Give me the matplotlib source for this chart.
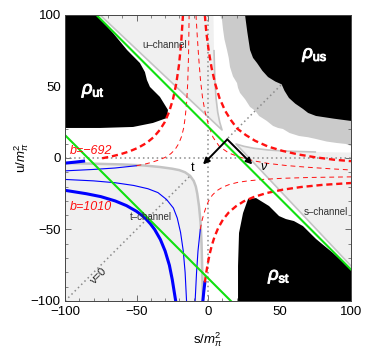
import matplotlib
matplotlib.use('Agg')
import matplotlib.pyplot as plt
import matplotlib.patheffects as pe
from matplotlib.ticker import MultipleLocator

plt.rcParams['font.family'] = ['Liberation Sans', 'DejaVu Sans']
plt.rcParams['mathtext.fontset'] = 'custom'
plt.rcParams['mathtext.rm'] = 'Liberation Sans'
plt.rcParams['mathtext.it'] = 'Liberation Sans:italic'

# the picture is symmetric under s <-> u, so mirrored pieces reuse the same numbers swapped

# black double-spectral regions
rho_ut_s = [-100, -77.6, -66.4, -56.6, -47.6, -44.1, -42.7, -40.6, -33.6, -28.0, -28.7, -38.5, -52.4, -75.5, -100]
rho_ut_u = [100, 100, 87.4, 75.5, 66.4, 60.1, 54.5, 49.7, 42.7, 33.6, 28.0, 24.5, 21.7, 21.0, 21.0]
rho_us_half_s = [25.9, 27.5, 29.4, 31.5, 34.3, 38, 42, 47, 51.5]
rho_us_half_u = [100, 88, 75.5, 70, 66.4, 61, 56.6, 53.5, 51.5]

# mid grey band around rho_us
grey_half_s = [8.4, 9.8, 10.5, 11.5, 13.3, 14.5, 15.4, 17.5, 20.3, 21, 22.4, 26, 29.4, 33]
grey_half_u = [100, 96.5, 90, 83, 75.5, 70, 63.6, 57, 52.4, 49, 45.5, 41, 35.7, 33]

# physical regions (light grey)
tch_s = [-100, -80, -60, -45, -33.6, -25, -20, -16, -12.5, -10, -8.5, -7.5, -6.3, -5.2, -4.5, -4, -3.5]
tch_u = [-3.5, -4, -4.5, -5.2, -6.3, -7.5, -8.5, -10, -12.5, -16, -20, -25, -33.6, -45, -60, -80, -100]
uch_s = [-75.5, 9.8, 8.2, 6.8, 5.6, 4.8, 4.2, 3.8]
uch_u = [100, 19.6, 25, 32, 42, 55, 75, 100]

# hyperbola b=-692 (upper-left branch)
b692_s = [-100, -93, -87, -80, -74, -67, -61, -55, -48.8, -43, -38.1, -33.8, -30.3, -27.3, -24.5, -22.2, -20.3, -18.8, -17.5]
b692_u = [-3.6, -2.9, -2.2, -1.2, -0.2, 1.2, 2.7, 4.6, 7.2, 10.5, 14.5, 19.5, 25, 32, 41, 52, 65, 80, 100]
# hyperbola b=1010
b1010_ur_s = [-2.2, -1.2, 0.5, 2.5, 5, 8, 12, 16, 20.5, 26.5, 33, 42, 52, 63, 75, 88, 100]
b1010_ur_u = [100, 88, 75, 63, 52, 42, 33, 26.5, 20.5, 16, 12, 8, 5, 2.5, 0.5, -1.2, -2.2]
b1010_ll_s = [-100, -85, -75, -65, -57, -50, -46, -43, -40.3, -37.3, -33.3, -30, -27, -25, -22.6]
b1010_ll_u = [-22.6, -25, -27, -30, -33.3, -37.3, -40.3, -43, -46, -50, -57, -65, -75, -85, -100]
# thin hyperbolae
thin1_s = [-100, -80, -65, -50, -45, -40, -35, -30, -26, -23, -20.5, -18.5, -17, -16, -15, -14.2, -13.6, -13.2]
thin1_u = [-9.0, -8.0, -7.0, -5.4, -4.5, -3.2, -1.6, 0.4, 3.0, 6.0, 10, 15, 21, 28, 38, 52, 72, 100]
thin2_ur_s = [-8.4, -7.5, -6.5, -5.3, -3.8, -2, 0.5, 3.5, 8, 14.5, 22.5, 32, 42, 55, 70, 85, 100]
thin2_ur_u = [100, 85, 70, 55, 42, 32, 22.5, 14.5, 8, 3.5, 0.5, -2, -3.8, -5.3, -6.5, -7.5, -8.4]
thin2_ll_s = [-100, -80, -65, -52, -42, -35, -29, -24.2, -21.5, -19.2, -17.3, -16, -15]
thin2_ll_u = [-15, -16, -17.3, -19.2, -21.5, -24.2, -29, -35, -42, -52, -65, -80, -100]

# lines t = const
green1_s = [-78, 100]
green1_u = [100, -78]
green2_s = [-100, 16]
green2_u = [16, -100]

ticks = [-100, -50, 0, 50, 100]

LIGHT = '#f0f0f0'
EDGE = '#c4c4c4'
MID = '#cbcbcb'
RED = '#ff1010'
BLUE = '#0000ff'
GREEN = '#10e010'

fig = plt.figure(figsize=(3.74, 3.56), dpi=100)
ax = fig.add_axes([0.1738, 0.1545, 0.7647, 0.8034])
ax.set_xlim(-100, 100)
ax.set_ylim(-100, 100)

# light grey physical regions
ax.fill(tch_s + [-100], tch_u + [-100], color=LIGHT, lw=0, zorder=1)
ax.plot(tch_s, tch_u, color=EDGE, lw=1.8, zorder=1.2)
ax.fill(uch_s, uch_u, color=LIGHT, lw=0, zorder=1)
ax.plot(uch_s[:-1], uch_u[:-1], color=EDGE, lw=1.2, zorder=1.2)
ax.fill(uch_u, uch_s, color=LIGHT, lw=0, zorder=1)
ax.plot(uch_u[:-1], uch_s[:-1], color=EDGE, lw=1.2, zorder=1.2)

# mid grey band and black regions
gs = grey_half_s + grey_half_u[::-1][1:] + [100]
gu = grey_half_u + grey_half_s[::-1][1:] + [100]
ax.fill(gs, gu, color=MID, lw=0, zorder=1.5)
bs = rho_us_half_s + rho_us_half_u[::-1][1:] + [100]
bu = rho_us_half_u + rho_us_half_s[::-1][1:] + [100]
ax.fill(bs, bu, color='black', lw=0, zorder=2)
ax.fill(rho_ut_s, rho_ut_u, color='black', lw=0, zorder=2)
ax.fill(rho_ut_u, rho_ut_s, color='black', lw=0, zorder=2)

# dotted guide lines
dot = dict(color='#8a8a8a', lw=1.1, ls=(0, (1, 2)), zorder=3)
ax.plot([-100, 100], [0, 0], **dot)
ax.plot([0, 0], [-100, 100], **dot)
ax.plot([-100, -12], [-100, -12], **dot)
ax.plot([14, 51.5], [14, 51.5], **dot)

# curves
thick_red = dict(color=RED, lw=1.7, ls=(0, (2.6, 1.6)), zorder=4)
thick_blue = dict(color=BLUE, lw=2.2, zorder=4)
thin_red = dict(color=RED, lw=0.7, ls=(0, (5, 4)), zorder=4)
thin_blue = dict(color=BLUE, lw=0.8, zorder=4)

ax.plot(b692_s[:3], b692_u[:3], **thick_blue)
ax.plot(b692_s[4:], b692_u[4:], **thick_red)
ax.plot(b692_u[:3], b692_s[:3], **thick_blue)
ax.plot(b692_u[2:], b692_s[2:], **thick_red)
ax.plot(b1010_ur_s, b1010_ur_u, **thick_red)
ax.plot(b1010_ll_s, b1010_ll_u, **thick_blue)

ax.plot(thin1_s[:4], thin1_u[:4], **thin_blue)
ax.plot(thin1_s[3:], thin1_u[3:], **thin_red)
ax.plot(thin1_u[:4], thin1_s[:4], **thin_blue)
ax.plot(thin1_u[3:], thin1_s[3:], **thin_red)
ax.plot(thin2_ur_s, thin2_ur_u, **thin_red)
ax.plot(thin2_ll_s, thin2_ll_u, **thin_blue)

ax.plot(green1_s, green1_u, color=GREEN, lw=1.5, zorder=5)
ax.plot(green2_s, green2_u, color=GREEN, lw=1.5, zorder=5)

# t and nu directions
arr = dict(arrowstyle='-|>', color='black', lw=1.4, mutation_scale=9, shrinkA=0, shrinkB=0)
ax.annotate('', xy=(-3.5, -4.5), xytext=(13.5, 13), arrowprops=arr, zorder=6)
ax.annotate('', xy=(31, -4.5), xytext=(13.5, 13), arrowprops=arr, zorder=6)
ax.text(-10.5, -7, 't', fontsize=9, ha='center', va='center', zorder=7)
ax.text(38.5, -6.5, 'ν', fontsize=9, style='italic', ha='center', va='center', zorder=7)

# labels
bold_white = [pe.withStroke(linewidth=0.7, foreground='white')]
for txt, xy in [(r'$\rho_{\rm ut}$', (-80, 47)), (r'$\rho_{\rm us}$', (75, 72)), (r'$\rho_{\rm st}$', (50, -83))]:
    ax.text(xy[0], xy[1], txt, color='white', fontsize=13, ha='center', va='center',
            zorder=7, path_effects=bold_white)
ax.text(-30, 79, 'u–channel', color='#333333', fontsize=7, ha='center', va='center', zorder=7)
ax.text(82.5, -38, 's–channel', color='#333333', fontsize=7, ha='center', va='center', zorder=7)
ax.text(-40, -41, 't–channel', color='#333333', fontsize=7, ha='center', va='center', zorder=7)
ax.text(-82, 5, 'b=−692', color=RED, fontsize=9, style='italic', ha='center', va='center', zorder=7)
ax.text(-82, -34, 'b=1010', color=RED, fontsize=9, style='italic', ha='center', va='center', zorder=7)
ax.text(-77, -83, 'ν=0', color='#222222', fontsize=8, rotation=45, ha='center', va='center', zorder=7)

ax.set_xticks(ticks)
ax.set_yticks(ticks)
ax.xaxis.set_minor_locator(MultipleLocator(10))
ax.yaxis.set_minor_locator(MultipleLocator(10))
ax.tick_params(which='both', direction='in', top=True, right=True, color='#555555', labelsize=9.5)
ax.tick_params(which='major', length=4, width=0.6)
ax.tick_params(which='minor', length=2.2, width=0.5)
ax.tick_params(axis='x', pad=3.5)
ax.tick_params(axis='y', pad=3)
for sp in ax.spines.values():
    sp.set_color('#444444')
    sp.set_linewidth(0.7)
    sp.set_zorder(8)

ax.set_xlabel(r's/$m_\pi^2$', fontsize=9.5, labelpad=9)
ax.set_ylabel(r'u/$m_\pi^2$', fontsize=9.5, labelpad=0)

fig.savefig('out.png', dpi=100)
